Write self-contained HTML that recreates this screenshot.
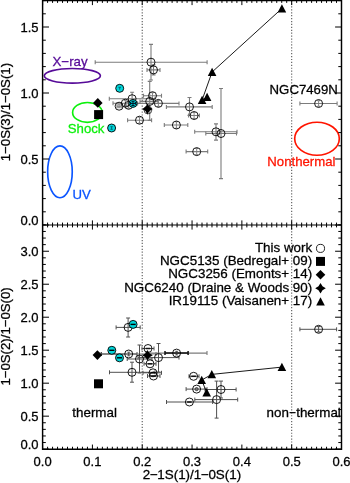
<!DOCTYPE html>
<html lang="en"><head><meta charset="utf-8"><title>Line ratio diagram</title>
<style>html,body{margin:0;padding:0;background:#fff;overflow:hidden}svg{display:block}svg text{font-family:"Liberation Sans",sans-serif;stroke-width:.28px}</style></head>
<body>
<svg width="350" height="483" viewBox="0 0 350 483" font-size="13.4">
<rect width="350" height="483" fill="#fff"/>
<line x1="142.23" y1="0.50" x2="142.23" y2="449.15" stroke="#585858" stroke-width="1.1" stroke-dasharray="1.2 1.72"/>
<line x1="291.68" y1="0.50" x2="291.68" y2="449.15" stroke="#585858" stroke-width="1.1" stroke-dasharray="1.2 1.72"/>
<ellipse cx="72.35" cy="75.8" rx="28.05" ry="7.3" fill="none" stroke="#560a98" stroke-width="1.65"/>
<ellipse cx="87.4" cy="112.4" rx="14.8" ry="9.9" fill="none" stroke="#0cf00c" stroke-width="1.65"/>
<ellipse cx="59.95" cy="171.8" rx="12.3" ry="25.9" fill="none" stroke="#0b55ff" stroke-width="1.65"/>
<ellipse cx="317" cy="138.7" rx="22.3" ry="16.5" fill="none" stroke="#ff1400" stroke-width="1.65"/>
<text x="52.5" y="66.3" fill="#560a98" font-size="13.3" stroke="#560a98">X−ray</text>
<text x="67.8" y="132.5" fill="#0cf00c" font-size="13.2" stroke="#0cf00c">Shock</text>
<text x="72.5" y="198.5" fill="#0b55ff" font-size="13.2" stroke="#0b55ff">UV</text>
<text x="267.3" y="165.6" fill="#ff1400" font-size="13.2" stroke="#ff1400">Nonthermal</text>
<text x="269.6" y="93.8" fill="#000" font-size="13.2" stroke="#000">NGC7469N</text>
<path d="M95.2 62.2H207.1M95.2 60.2V64.2M207.1 60.2V64.2" stroke="#7c7c7c" stroke-width="1.1" fill="none"/>
<path d="M151.0 44.4V80.0M149.0 44.4H153.0M149.0 80.0H153.0" stroke="#7c7c7c" stroke-width="1.1" fill="none"/>
<path d="M147.0 69.9H160.0M147.0 67.9V71.9M160.0 67.9V71.9" stroke="#7c7c7c" stroke-width="1.1" fill="none"/>
<path d="M153.5 64.9V74.9M151.5 64.9H155.5M151.5 74.9H155.5" stroke="#7c7c7c" stroke-width="1.1" fill="none"/>
<path d="M143.5 95.7H161.5M143.5 93.7V97.7M161.5 93.7V97.7" stroke="#7c7c7c" stroke-width="1.1" fill="none"/>
<path d="M152.5 92.7V98.7M151.1 92.7H153.9M151.1 98.7H153.9" stroke="#7c7c7c" stroke-width="0.9" fill="none"/>
<path d="M109.3 98.7H155.0M109.3 96.7V100.7M155.0 96.7V100.7" stroke="#7c7c7c" stroke-width="1.1" fill="none"/>
<path d="M132.1 92.2V105.2M130.1 92.2H134.1M130.1 105.2H134.1" stroke="#7c7c7c" stroke-width="1.1" fill="none"/>
<path d="M140.0 101.4H158.0M140.0 99.4V103.4M158.0 99.4V103.4" stroke="#7c7c7c" stroke-width="1.1" fill="none"/>
<path d="M149.7 81.4V120.4M147.7 81.4H151.7M147.7 120.4H151.7" stroke="#7c7c7c" stroke-width="1.1" fill="none"/>
<path d="M137.6 103.4H179.0M137.6 101.4V105.4M179.0 101.4V105.4" stroke="#7c7c7c" stroke-width="1.1" fill="none"/>
<path d="M158.4 100.4V106.4M157.0 100.4H159.8M157.0 106.4H159.8" stroke="#7c7c7c" stroke-width="0.9" fill="none"/>
<path d="M113.0 103.2H137.0M113.0 101.2V105.2M137.0 101.2V105.2" stroke="#7c7c7c" stroke-width="1.1" fill="none"/>
<path d="M125.3 100.4V106.0M123.9 100.4H126.7M123.9 106.0H126.7" stroke="#7c7c7c" stroke-width="0.9" fill="none"/>
<path d="M126.0 105.3H131.2M126.0 103.3V107.3M131.2 103.3V107.3" stroke="#7c7c7c" stroke-width="1.1" fill="none"/>
<path d="M128.6 102.4V108.2M127.2 102.4H130.0M127.2 108.2H130.0" stroke="#7c7c7c" stroke-width="0.9" fill="none"/>
<path d="M117.0 106.2H121.2M117.0 104.2V108.2M121.2 104.2V108.2" stroke="#7c7c7c" stroke-width="1.1" fill="none"/>
<path d="M119.1 104.7V107.7M117.7 104.7H120.5M117.7 107.7H120.5" stroke="#7c7c7c" stroke-width="0.9" fill="none"/>
<path d="M127.6 120.2H151.6M127.6 118.2V122.2M151.6 118.2V122.2" stroke="#7c7c7c" stroke-width="1.1" fill="none"/>
<path d="M139.5 117.2V123.2M138.1 117.2H140.9M138.1 123.2H140.9" stroke="#7c7c7c" stroke-width="0.9" fill="none"/>
<path d="M166.4 106.9H212.2M166.4 104.9V108.9M212.2 104.9V108.9" stroke="#7c7c7c" stroke-width="1.1" fill="none"/>
<path d="M189.5 97.5V115.4M187.5 97.5H191.5M187.5 115.4H191.5" stroke="#7c7c7c" stroke-width="1.1" fill="none"/>
<path d="M188.6 115.5H199.4M188.6 113.5V117.5M199.4 113.5V117.5" stroke="#7c7c7c" stroke-width="1.1" fill="none"/>
<path d="M194.1 112.4V118.6M192.7 112.4H195.5M192.7 118.6H195.5" stroke="#7c7c7c" stroke-width="0.9" fill="none"/>
<path d="M164.3 125.0H187.8M164.3 123.0V127.0M187.8 123.0V127.0" stroke="#7c7c7c" stroke-width="1.1" fill="none"/>
<path d="M176.4 121.7V128.3M175.0 121.7H177.8M175.0 128.3H177.8" stroke="#7c7c7c" stroke-width="0.9" fill="none"/>
<path d="M194.7 131.8H237.0M194.7 129.8V133.8M237.0 129.8V133.8" stroke="#7c7c7c" stroke-width="1.1" fill="none"/>
<path d="M216.0 123.9V140.1M214.0 123.9H218.0M214.0 140.1H218.0" stroke="#7c7c7c" stroke-width="1.1" fill="none"/>
<path d="M205.8 133.5H236.5M205.8 131.5V135.5M236.5 131.5V135.5" stroke="#7c7c7c" stroke-width="1.1" fill="none"/>
<path d="M221.0 88.5V178.6M219.0 88.5H223.0M219.0 178.6H223.0" stroke="#7c7c7c" stroke-width="1.1" fill="none"/>
<path d="M186.1 151.6H207.7M186.1 149.6V153.6M207.7 149.6V153.6" stroke="#7c7c7c" stroke-width="1.1" fill="none"/>
<path d="M196.7 148.4V154.8M195.3 148.4H198.1M195.3 154.8H198.1" stroke="#7c7c7c" stroke-width="0.9" fill="none"/>
<path d="M299.9 103.5H337.1M299.9 101.5V105.5M337.1 101.5V105.5" stroke="#7c7c7c" stroke-width="1.1" fill="none"/>
<path d="M318.6 100.7V106.3M317.2 100.7H320.0M317.2 106.3H320.0" stroke="#7c7c7c" stroke-width="0.9" fill="none"/>
<circle cx="151.0" cy="62.2" r="4.0" fill="none" stroke="#000" stroke-width="0.9"/>
<circle cx="153.5" cy="69.9" r="4.0" fill="none" stroke="#000" stroke-width="0.9"/>
<circle cx="152.5" cy="95.7" r="4.0" fill="none" stroke="#000" stroke-width="0.9"/>
<circle cx="132.1" cy="98.7" r="4.0" fill="none" stroke="#000" stroke-width="0.9"/>
<circle cx="149.7" cy="101.4" r="4.0" fill="none" stroke="#000" stroke-width="0.9"/>
<circle cx="158.4" cy="103.4" r="4.0" fill="none" stroke="#000" stroke-width="0.9"/>
<circle cx="125.3" cy="103.2" r="4.0" fill="none" stroke="#000" stroke-width="0.9"/>
<circle cx="128.6" cy="105.3" r="4.0" fill="none" stroke="#000" stroke-width="0.9"/>
<circle cx="119.1" cy="106.2" r="4.0" fill="none" stroke="#000" stroke-width="0.9"/>
<circle cx="139.5" cy="120.2" r="4.0" fill="none" stroke="#000" stroke-width="0.9"/>
<circle cx="189.5" cy="106.9" r="4.0" fill="none" stroke="#000" stroke-width="0.9"/>
<circle cx="194.1" cy="115.5" r="4.0" fill="none" stroke="#000" stroke-width="0.9"/>
<circle cx="176.4" cy="125.0" r="4.0" fill="none" stroke="#000" stroke-width="0.9"/>
<circle cx="216.0" cy="131.8" r="4.0" fill="none" stroke="#000" stroke-width="0.9"/>
<circle cx="221.0" cy="133.5" r="4.0" fill="none" stroke="#000" stroke-width="0.9"/>
<circle cx="196.7" cy="151.6" r="4.0" fill="none" stroke="#000" stroke-width="0.9"/>
<circle cx="318.6" cy="103.5" r="4.0" fill="none" stroke="#000" stroke-width="0.9"/>
<circle cx="119.7" cy="88.3" r="4.0" fill="#00d6da" stroke="#000" stroke-width="0.9"/>
<path d="M118.4 87.3h2.6M119.7 87.3v2.4" stroke="#056" stroke-width="0.8" fill="none"/>
<circle cx="133.0" cy="103.4" r="4.0" fill="#00d6da" stroke="#000" stroke-width="0.9"/>
<path d="M130.4 103.4h5.2M133.0 101.0v4.8M131.4 101.2h3.2M131.4 105.6h3.2M130.6 102.0v2.8M135.4 102.0v2.8" stroke="#012" stroke-width="1" fill="none"/>
<circle cx="111.6" cy="128.0" r="4.0" fill="#00d6da" stroke="#000" stroke-width="0.9"/>
<path d="M110.4 126.7h2.4M110.4 129.3h2.4M111.6 126.7v2.6" stroke="#056" stroke-width="0.8" fill="none"/>
<path d="M207.1 97.1L202.1 100L212.1 72L281.9 8.5" stroke="#000" stroke-width="0.9" fill="none"/>
<path d="M207.1 92.8L211.4 101.0H202.8Z" fill="#000"/>
<path d="M202.1 95.7L206.4 103.9H197.8Z" fill="#000"/>
<path d="M212.1 67.7L216.4 75.9H207.8Z" fill="#000"/>
<path d="M281.9 4.2L286.2 12.4H277.6Z" fill="#000"/>
<path d="M97.8 98.1L102.6 102.9L97.8 107.7L93.0 102.9Z" fill="#000"/>
<rect x="94.1" y="110.1" width="9.0" height="9.0" fill="#000"/>
<circle cx="147.9" cy="110.0" r="3.9" fill="none" stroke="#000" stroke-width="0.7"/>
<path d="M147.4 103.8L149.4 107.1L152.7 109.1L149.4 111.1L147.4 114.4L145.4 111.1L142.1 109.1L145.4 107.1Z" fill="#000"/>
<text x="72.3" y="416.6" stroke="#000">thermal</text>
<text x="266.6" y="416.6" stroke="#000">non<tspan x="289.2" textLength="6.8" lengthAdjust="spacingAndGlyphs">−</tspan><tspan x="296.2">thermal</tspan></text>
<path d="M116.1 327.4H140.2M116.1 325.4V329.4M140.2 325.4V329.4M128.1 318.0V337.0M126.1 318.0H130.1M126.1 337.0H130.1" stroke="#505050" stroke-width="1.0" fill="none"/>
<path d="M101.0 354.0H156.0M101.0 352.0V356.0M156.0 352.0V356.0" stroke="#7c7c7c" stroke-width="1.1" fill="none"/>
<path d="M101.5 354.0H137.0M101.5 352.0V356.0M137.0 352.0V356.0" stroke="#505050" stroke-width="1.0" fill="none"/>
<path d="M127.2 359.0H152.0M127.2 357.0V361.0M152.0 357.0V361.0M139.5 345.0V373.0M137.5 345.0H141.5M137.5 373.0H141.5" stroke="#505050" stroke-width="1.0" fill="none"/>
<path d="M109.5 372.3H155.0M109.5 370.3V374.3M155.0 370.3V374.3M132.0 362.2V382.2M130.0 362.2H134.0M130.0 382.2H134.0" stroke="#505050" stroke-width="1.0" fill="none"/>
<path d="M142.0 348.5H154.0M142.0 346.5V350.5M154.0 346.5V350.5" stroke="#505050" stroke-width="1.0" fill="none"/>
<path d="M144.0 363.8H156.0M144.0 361.8V365.8M156.0 361.8V365.8" stroke="#505050" stroke-width="1.0" fill="none"/>
<path d="M143.0 372.8H161.5M143.0 370.8V374.8M161.5 370.8V374.8" stroke="#505050" stroke-width="1.0" fill="none"/>
<path d="M147.5 376.0H160.0M147.5 374.0V378.0M160.0 374.0V378.0" stroke="#505050" stroke-width="1.0" fill="none"/>
<path d="M138.0 357.6H179.0M138.0 355.6V359.6M179.0 355.6V359.6M158.5 343.5V372.0M156.5 343.5H160.5M156.5 372.0H160.5" stroke="#505050" stroke-width="1.0" fill="none"/>
<path d="M146.0 353.1H207.0M146.0 351.1V355.1M207.0 351.1V355.1" stroke="#7c7c7c" stroke-width="1.1" fill="none"/>
<path d="M189.0 376.3H199.0M189.0 374.3V378.3M199.0 374.3V378.3" stroke="#505050" stroke-width="1.0" fill="none"/>
<path d="M186.1 389.1H207.0M186.1 387.1V391.1M207.0 387.1V391.1" stroke="#505050" stroke-width="1.0" fill="none"/>
<path d="M166.5 402.0H212.6M166.5 400.0V404.0M212.6 400.0V404.0" stroke="#505050" stroke-width="1.0" fill="none"/>
<path d="M194.8 399.6H237.7M194.8 397.6V401.6M237.7 397.6V401.6M216.6 381.1V418.1M214.6 381.1H218.6M214.6 418.1H218.6" stroke="#505050" stroke-width="1.0" fill="none"/>
<path d="M205.0 389.5H236.1M205.0 387.5V391.5M236.1 387.5V391.5M221.0 381.1V398.0M219.0 381.1H223.0M219.0 398.0H223.0" stroke="#505050" stroke-width="1.0" fill="none"/>
<path d="M299.9 329.3H336.6M299.9 327.3V331.3M336.6 327.3V331.3M318.6 326.6V332.0M316.6 326.6H320.6M316.6 332.0H320.6" stroke="#505050" stroke-width="1.0" fill="none"/>
<path d="M165 353.1H188.1M165 351.1v4M188.1 351.1v4" stroke="#111" stroke-width="1.5" fill="none"/>
<circle cx="128.1" cy="327.4" r="4.0" fill="none" stroke="#000" stroke-width="0.9"/>
<circle cx="128.7" cy="354.0" r="4.0" fill="none" stroke="#000" stroke-width="0.9"/>
<path d="M127.3 352.2h2.8M127.3 355.8h2.8M128.7 352.2v3.6" stroke="#333" stroke-width="0.8" fill="none"/>
<circle cx="139.5" cy="359.0" r="4.0" fill="none" stroke="#000" stroke-width="0.9"/>
<circle cx="132.0" cy="372.3" r="4.0" fill="none" stroke="#000" stroke-width="0.9"/>
<circle cx="148.0" cy="348.5" r="4.0" fill="none" stroke="#000" stroke-width="0.9"/>
<path d="M145.7 348.5h4.6" stroke="#111" stroke-width="1.5"/>
<circle cx="150.0" cy="363.8" r="4.0" fill="none" stroke="#000" stroke-width="0.9"/>
<path d="M147.7 363.8h4.6" stroke="#111" stroke-width="1.5"/>
<circle cx="153.0" cy="372.8" r="4.0" fill="none" stroke="#000" stroke-width="0.9"/>
<path d="M150.7 372.8h4.6" stroke="#111" stroke-width="1.5"/>
<circle cx="153.5" cy="376.0" r="4.0" fill="none" stroke="#000" stroke-width="0.9"/>
<path d="M151.2 376.0h4.6" stroke="#111" stroke-width="1.5"/>
<circle cx="158.5" cy="357.6" r="4.0" fill="none" stroke="#000" stroke-width="0.9"/>
<circle cx="176.6" cy="353.1" r="4.0" fill="none" stroke="#000" stroke-width="0.9"/>
<path d="M175.2 351.3h2.8M175.2 354.9h2.8M176.6 351.3v3.6" stroke="#333" stroke-width="0.8" fill="none"/>
<circle cx="193.6" cy="376.3" r="4.0" fill="none" stroke="#000" stroke-width="0.9"/>
<path d="M191.3 376.3h4.6" stroke="#111" stroke-width="1.5"/>
<circle cx="196.6" cy="389.1" r="4.0" fill="none" stroke="#000" stroke-width="0.9"/>
<circle cx="196.6" cy="389.1" r="1.6" fill="#777" stroke="#222" stroke-width="0.7"/>
<circle cx="189.4" cy="402.0" r="4.0" fill="none" stroke="#000" stroke-width="0.9"/>
<path d="M187.1 402.0h4.6" stroke="#111" stroke-width="1.5"/>
<circle cx="216.6" cy="399.6" r="4.0" fill="none" stroke="#000" stroke-width="0.9"/>
<circle cx="221.0" cy="389.5" r="4.0" fill="none" stroke="#000" stroke-width="0.9"/>
<circle cx="318.6" cy="329.3" r="4.0" fill="none" stroke="#000" stroke-width="0.9"/>
<circle cx="133.1" cy="324.4" r="4.0" fill="#00d6da" stroke="#000" stroke-width="0.9"/>
<path d="M130.5 324.4H135.7" stroke="#000" stroke-width="1.4"/>
<circle cx="111.8" cy="350.3" r="4.0" fill="#00d6da" stroke="#000" stroke-width="0.9"/>
<path d="M109.2 350.3H114.4" stroke="#000" stroke-width="1.4"/>
<circle cx="119.5" cy="357.8" r="4.0" fill="#00d6da" stroke="#000" stroke-width="0.9"/>
<path d="M116.9 357.8H122.1" stroke="#000" stroke-width="1.4"/>
<path d="M206.7 392.6L201.7 380L211.8 374.4L281.9 367.1" stroke="#000" stroke-width="0.9" fill="none"/>
<path d="M206.7 388.3L211.0 396.5H202.4Z" fill="#000"/>
<path d="M201.7 375.7L206.0 383.9H197.4Z" fill="#000"/>
<path d="M211.8 370.1L216.1 378.3H207.5Z" fill="#000"/>
<path d="M281.9 362.8L286.2 371.0H277.6Z" fill="#000"/>
<path d="M97.4 350.3L102.2 355.1L97.4 359.9L92.6 355.1Z" fill="#000"/>
<rect x="94.0" y="379.3" width="9.0" height="9.0" fill="#000"/>
<path d="M147.5 349.9L149.5 353.2L152.8 355.2L149.5 357.2L147.5 360.5L145.5 357.2L142.2 355.2L145.5 353.2Z" fill="#000"/>
<text x="312.2" y="251.50" text-anchor="end" stroke="#000">This work</text>
<text x="312.2" y="264.85" text-anchor="end" stroke="#000">NGC5135 (Bedregal+ 09)</text>
<text x="312.2" y="278.20" text-anchor="end" stroke="#000">NGC3256 (Emonts+ 14)</text>
<text x="312.2" y="291.55" text-anchor="end" stroke="#000">NGC6240 (Draine &amp; Woods 90)</text>
<text x="312.2" y="304.90" text-anchor="end" stroke="#000">IR19115 (Vaisanen+ 17)</text>
<circle cx="320.5" cy="248.4" r="4.05" fill="none" stroke="#000" stroke-width="0.85"/>
<rect x="316.0" y="256.9" width="9.0" height="9.0" fill="#000"/>
<path d="M320.5 270.0L325.3 274.8L320.5 279.6L315.7 274.8Z" fill="#000"/>
<path d="M320.5 282.9L322.5 286.2L325.8 288.2L322.5 290.2L320.5 293.5L318.5 290.2L315.2 288.2L318.5 286.2Z" fill="#000"/>
<path d="M320.5 297.3L324.8 305.5H316.2Z" fill="#000"/>
<path d="M42.60 0.50v4.6M47.58 0.50v2.4M52.56 0.50v2.4M57.55 0.50v2.4M62.53 0.50v2.4M67.51 0.50v2.4M72.49 0.50v2.4M77.47 0.50v2.4M82.45 0.50v2.4M87.44 0.50v2.4M92.42 0.50v4.6M97.40 0.50v2.4M102.38 0.50v2.4M107.36 0.50v2.4M112.34 0.50v2.4M117.32 0.50v2.4M122.31 0.50v2.4M127.29 0.50v2.4M132.27 0.50v2.4M137.25 0.50v2.4M142.23 0.50v4.6M147.22 0.50v2.4M152.20 0.50v2.4M157.18 0.50v2.4M162.16 0.50v2.4M167.14 0.50v2.4M172.12 0.50v2.4M177.10 0.50v2.4M182.09 0.50v2.4M187.07 0.50v2.4M192.05 0.50v4.6M197.03 0.50v2.4M202.01 0.50v2.4M206.99 0.50v2.4M211.98 0.50v2.4M216.96 0.50v2.4M221.94 0.50v2.4M226.92 0.50v2.4M231.90 0.50v2.4M236.88 0.50v2.4M241.87 0.50v4.6M246.85 0.50v2.4M251.83 0.50v2.4M256.81 0.50v2.4M261.79 0.50v2.4M266.77 0.50v2.4M271.76 0.50v2.4M276.74 0.50v2.4M281.72 0.50v2.4M286.70 0.50v2.4M291.68 0.50v4.6M296.67 0.50v2.4M301.65 0.50v2.4M306.63 0.50v2.4M311.61 0.50v2.4M316.59 0.50v2.4M321.57 0.50v2.4M326.55 0.50v2.4M331.54 0.50v2.4M336.52 0.50v2.4M341.50 0.50v4.6M42.60 225.00v-4.6M47.58 225.00v-2.4M52.56 225.00v-2.4M57.55 225.00v-2.4M62.53 225.00v-2.4M67.51 225.00v-2.4M72.49 225.00v-2.4M77.47 225.00v-2.4M82.45 225.00v-2.4M87.44 225.00v-2.4M92.42 225.00v-4.6M97.40 225.00v-2.4M102.38 225.00v-2.4M107.36 225.00v-2.4M112.34 225.00v-2.4M117.32 225.00v-2.4M122.31 225.00v-2.4M127.29 225.00v-2.4M132.27 225.00v-2.4M137.25 225.00v-2.4M142.23 225.00v-4.6M147.22 225.00v-2.4M152.20 225.00v-2.4M157.18 225.00v-2.4M162.16 225.00v-2.4M167.14 225.00v-2.4M172.12 225.00v-2.4M177.10 225.00v-2.4M182.09 225.00v-2.4M187.07 225.00v-2.4M192.05 225.00v-4.6M197.03 225.00v-2.4M202.01 225.00v-2.4M206.99 225.00v-2.4M211.98 225.00v-2.4M216.96 225.00v-2.4M221.94 225.00v-2.4M226.92 225.00v-2.4M231.90 225.00v-2.4M236.88 225.00v-2.4M241.87 225.00v-4.6M246.85 225.00v-2.4M251.83 225.00v-2.4M256.81 225.00v-2.4M261.79 225.00v-2.4M266.77 225.00v-2.4M271.76 225.00v-2.4M276.74 225.00v-2.4M281.72 225.00v-2.4M286.70 225.00v-2.4M291.68 225.00v-4.6M296.67 225.00v-2.4M301.65 225.00v-2.4M306.63 225.00v-2.4M311.61 225.00v-2.4M316.59 225.00v-2.4M321.57 225.00v-2.4M326.55 225.00v-2.4M331.54 225.00v-2.4M336.52 225.00v-2.4M341.50 225.00v-4.6M42.60 225.00v4.6M47.58 225.00v2.4M52.56 225.00v2.4M57.55 225.00v2.4M62.53 225.00v2.4M67.51 225.00v2.4M72.49 225.00v2.4M77.47 225.00v2.4M82.45 225.00v2.4M87.44 225.00v2.4M92.42 225.00v4.6M97.40 225.00v2.4M102.38 225.00v2.4M107.36 225.00v2.4M112.34 225.00v2.4M117.32 225.00v2.4M122.31 225.00v2.4M127.29 225.00v2.4M132.27 225.00v2.4M137.25 225.00v2.4M142.23 225.00v4.6M147.22 225.00v2.4M152.20 225.00v2.4M157.18 225.00v2.4M162.16 225.00v2.4M167.14 225.00v2.4M172.12 225.00v2.4M177.10 225.00v2.4M182.09 225.00v2.4M187.07 225.00v2.4M192.05 225.00v4.6M197.03 225.00v2.4M202.01 225.00v2.4M206.99 225.00v2.4M211.98 225.00v2.4M216.96 225.00v2.4M221.94 225.00v2.4M226.92 225.00v2.4M231.90 225.00v2.4M236.88 225.00v2.4M241.87 225.00v4.6M246.85 225.00v2.4M251.83 225.00v2.4M256.81 225.00v2.4M261.79 225.00v2.4M266.77 225.00v2.4M271.76 225.00v2.4M276.74 225.00v2.4M281.72 225.00v2.4M286.70 225.00v2.4M291.68 225.00v4.6M296.67 225.00v2.4M301.65 225.00v2.4M306.63 225.00v2.4M311.61 225.00v2.4M316.59 225.00v2.4M321.57 225.00v2.4M326.55 225.00v2.4M331.54 225.00v2.4M336.52 225.00v2.4M341.50 225.00v4.6M42.60 449.15v-4.6M47.58 449.15v-2.4M52.56 449.15v-2.4M57.55 449.15v-2.4M62.53 449.15v-2.4M67.51 449.15v-2.4M72.49 449.15v-2.4M77.47 449.15v-2.4M82.45 449.15v-2.4M87.44 449.15v-2.4M92.42 449.15v-4.6M97.40 449.15v-2.4M102.38 449.15v-2.4M107.36 449.15v-2.4M112.34 449.15v-2.4M117.32 449.15v-2.4M122.31 449.15v-2.4M127.29 449.15v-2.4M132.27 449.15v-2.4M137.25 449.15v-2.4M142.23 449.15v-4.6M147.22 449.15v-2.4M152.20 449.15v-2.4M157.18 449.15v-2.4M162.16 449.15v-2.4M167.14 449.15v-2.4M172.12 449.15v-2.4M177.10 449.15v-2.4M182.09 449.15v-2.4M187.07 449.15v-2.4M192.05 449.15v-4.6M197.03 449.15v-2.4M202.01 449.15v-2.4M206.99 449.15v-2.4M211.98 449.15v-2.4M216.96 449.15v-2.4M221.94 449.15v-2.4M226.92 449.15v-2.4M231.90 449.15v-2.4M236.88 449.15v-2.4M241.87 449.15v-4.6M246.85 449.15v-2.4M251.83 449.15v-2.4M256.81 449.15v-2.4M261.79 449.15v-2.4M266.77 449.15v-2.4M271.76 449.15v-2.4M276.74 449.15v-2.4M281.72 449.15v-2.4M286.70 449.15v-2.4M291.68 449.15v-4.6M296.67 449.15v-2.4M301.65 449.15v-2.4M306.63 449.15v-2.4M311.61 449.15v-2.4M316.59 449.15v-2.4M321.57 449.15v-2.4M326.55 449.15v-2.4M331.54 449.15v-2.4M336.52 449.15v-2.4M341.50 449.15v-4.6M42.60 225.00h6.4M42.60 211.80h3.2M42.60 198.60h3.2M42.60 185.40h3.2M42.60 172.20h3.2M42.60 159.00h6.4M42.60 145.80h3.2M42.60 132.60h3.2M42.60 119.40h3.2M42.60 106.20h3.2M42.60 93.00h6.4M42.60 79.80h3.2M42.60 66.60h3.2M42.60 53.40h3.2M42.60 40.20h3.2M42.60 27.00h6.4M42.60 13.80h3.2M42.60 0.60h3.2M341.50 225.00h-6.4M341.50 211.80h-3.2M341.50 198.60h-3.2M341.50 185.40h-3.2M341.50 172.20h-3.2M341.50 159.00h-6.4M341.50 145.80h-3.2M341.50 132.60h-3.2M341.50 119.40h-3.2M341.50 106.20h-3.2M341.50 93.00h-6.4M341.50 79.80h-3.2M341.50 66.60h-3.2M341.50 53.40h-3.2M341.50 40.20h-3.2M341.50 27.00h-6.4M341.50 13.80h-3.2M341.50 0.60h-3.2M42.60 449.15h6.4M42.60 442.55h3.2M42.60 435.96h3.2M42.60 429.36h3.2M42.60 422.76h3.2M42.60 416.16h6.4M42.60 409.57h3.2M42.60 402.97h3.2M42.60 396.37h3.2M42.60 389.78h3.2M42.60 383.18h6.4M42.60 376.58h3.2M42.60 369.99h3.2M42.60 363.39h3.2M42.60 356.79h3.2M42.60 350.19h6.4M42.60 343.60h3.2M42.60 337.00h3.2M42.60 330.40h3.2M42.60 323.81h3.2M42.60 317.21h6.4M42.60 310.61h3.2M42.60 304.02h3.2M42.60 297.42h3.2M42.60 290.82h3.2M42.60 284.22h6.4M42.60 277.63h3.2M42.60 271.03h3.2M42.60 264.43h3.2M42.60 257.84h3.2M42.60 251.24h6.4M42.60 244.64h3.2M42.60 238.05h3.2M42.60 231.45h3.2M42.60 224.85h3.2M341.50 449.15h-6.4M341.50 442.55h-3.2M341.50 435.96h-3.2M341.50 429.36h-3.2M341.50 422.76h-3.2M341.50 416.16h-6.4M341.50 409.57h-3.2M341.50 402.97h-3.2M341.50 396.37h-3.2M341.50 389.78h-3.2M341.50 383.18h-6.4M341.50 376.58h-3.2M341.50 369.99h-3.2M341.50 363.39h-3.2M341.50 356.79h-3.2M341.50 350.19h-6.4M341.50 343.60h-3.2M341.50 337.00h-3.2M341.50 330.40h-3.2M341.50 323.81h-3.2M341.50 317.21h-6.4M341.50 310.61h-3.2M341.50 304.02h-3.2M341.50 297.42h-3.2M341.50 290.82h-3.2M341.50 284.22h-6.4M341.50 277.63h-3.2M341.50 271.03h-3.2M341.50 264.43h-3.2M341.50 257.84h-3.2M341.50 251.24h-6.4M341.50 244.64h-3.2M341.50 238.05h-3.2M341.50 231.45h-3.2M341.50 224.85h-3.2" stroke="#000" stroke-width="1" fill="none"/>
<path d="M42.60 0.50H341.50V449.15H42.60Z" stroke="#000" stroke-width="1.45" fill="none"/>
<path d="M42.60 225.00H341.50" stroke="#000" stroke-width="1.15" fill="none"/>
<text x="42.6" y="465.8" text-anchor="middle" font-size="13" stroke="#000">0.0</text>
<text x="92.4" y="465.8" text-anchor="middle" font-size="13" stroke="#000">0.1</text>
<text x="142.2" y="465.8" text-anchor="middle" font-size="13" stroke="#000">0.2</text>
<text x="192.0" y="465.8" text-anchor="middle" font-size="13" stroke="#000">0.3</text>
<text x="241.9" y="465.8" text-anchor="middle" font-size="13" stroke="#000">0.4</text>
<text x="291.7" y="465.8" text-anchor="middle" font-size="13" stroke="#000">0.5</text>
<text x="341.5" y="465.8" text-anchor="middle" font-size="13" stroke="#000">0.6</text>
<text x="38.5" y="225.3" text-anchor="end" font-size="13" stroke="#000">0.0</text>
<text x="38.5" y="163.5" text-anchor="end" font-size="13" stroke="#000">0.5</text>
<text x="38.5" y="97.5" text-anchor="end" font-size="13" stroke="#000">1.0</text>
<text x="38.5" y="31.5" text-anchor="end" font-size="13" stroke="#000">1.5</text>
<text x="38.5" y="449.4" text-anchor="end" font-size="13" stroke="#000">0.0</text>
<text x="38.5" y="420.7" text-anchor="end" font-size="13" stroke="#000">0.5</text>
<text x="38.5" y="387.7" text-anchor="end" font-size="13" stroke="#000">1.0</text>
<text x="38.5" y="354.7" text-anchor="end" font-size="13" stroke="#000">1.5</text>
<text x="38.5" y="321.7" text-anchor="end" font-size="13" stroke="#000">2.0</text>
<text x="38.5" y="288.7" text-anchor="end" font-size="13" stroke="#000">2.5</text>
<text x="38.5" y="255.7" text-anchor="end" font-size="13" stroke="#000">3.0</text>
<text x="142.7" y="479.4" stroke="#000">2<tspan dx="-0.25">−</tspan><tspan dx="-0.4">1S(1)/1</tspan><tspan dx="-0.25">−</tspan><tspan dx="-0.4">0S(1)</tspan></text>
<text transform="translate(10.2 112.1) rotate(-90)" text-anchor="middle" font-size="13.2" stroke="#000">1−0S(3)/1−0S(1)</text>
<text transform="translate(10.2 336.45) rotate(-90)" text-anchor="middle" font-size="13.2" stroke="#000">1−0S(2)/1−0S(0)</text>
</svg>
</body></html>
